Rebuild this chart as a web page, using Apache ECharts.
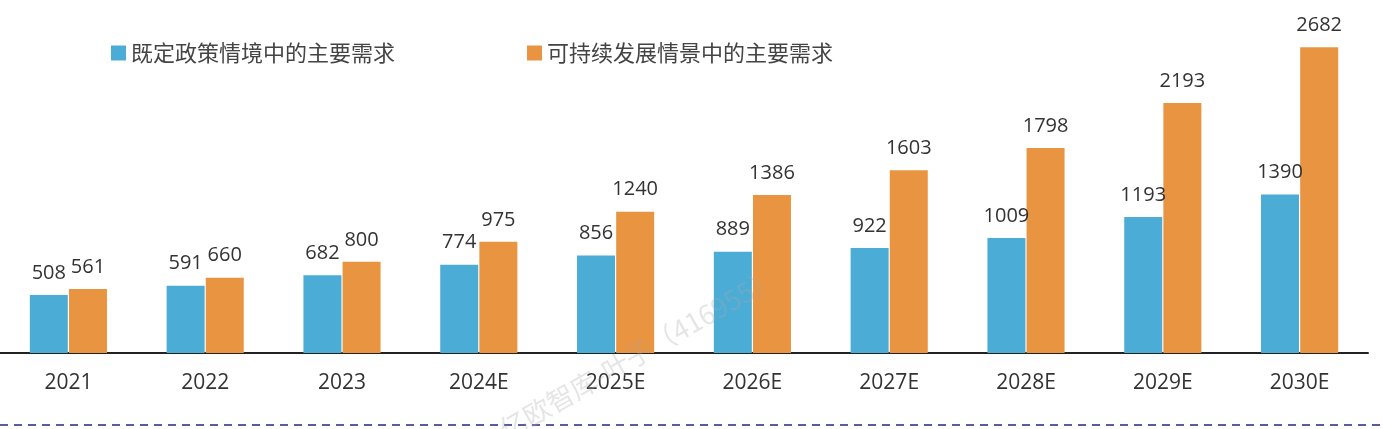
<!DOCTYPE html>
<html><head><meta charset="utf-8">
<script src="https://cdn.jsdelivr.net/npm/echarts@6/dist/echarts.min.js"></script>
<style>html,body{margin:0;padding:0;background:#fff}#c{width:1383px;height:429px}</style>
</head><body><div id="c"></div>
<script>
var chart = echarts.init(document.getElementById('c'));
var years = ['2021', '2022', '2023', '2024E', '2025E', '2026E', '2027E', '2028E', '2029E', '2030E'];
var statedPolicy = [508, 591, 682, 774, 856, 889, 922, 1009, 1193, 1390];
var sustainable = [561, 660, 800, 975, 1240, 1386, 1603, 1798, 2193, 2682];
var names = ['既定政策情境中的主要需求', '可持续发展情景中的主要需求'];

var label = { show: true, position: 'top', distance: 12, color: '#333', fontSize: 20, fontFamily: 'Open Sans' };

var option = {
    animation: false,
    legend: {
        left: 106, top: 37, itemGap: 132, itemWidth: 15, itemHeight: 15, icon: 'rect',
        textStyle: { fontSize: 22, color: '#444', fontFamily: 'Noto Sans CJK SC' },
        data: names
    },
    grid: { left: 0, right: 15, top: 11, bottom: 76 },
    xAxis: {
        type: 'category', data: years,
        axisTick: { show: false },
        axisLine: { lineStyle: { color: '#222', width: 2 } },
        axisLabel: { fontSize: 21, color: '#333', margin: 20, fontFamily: 'Open Sans' }
    },
    yAxis: { type: 'value', min: 0, max: 3000, show: false, splitLine: { show: false } },
    series: [
        { name: names[0], type: 'bar', data: statedPolicy, barWidth: 38, barGap: '3%', itemStyle: { color: '#4bacd6' }, label: label },
        { name: names[1], type: 'bar', data: sustainable, barWidth: 38, itemStyle: { color: '#e99441' }, label: label }
    ],
    graphic: [
        { type: 'line', shape: { x1: 0, y1: 425, x2: 1383, y2: 425 }, style: { stroke: '#5b5b9e', lineWidth: 2, lineDash: [8, 6] } },
        { type: 'text', z: 100, x: 495, y: 420, rotation: 0.52, style: { text: '亿欧智库-叶子（416955）', fill: 'rgba(170,170,170,0.3)', fontSize: 27, fontFamily: 'Noto Sans CJK SC' } }
    ]
};
chart.setOption(option);
</script></body></html>
